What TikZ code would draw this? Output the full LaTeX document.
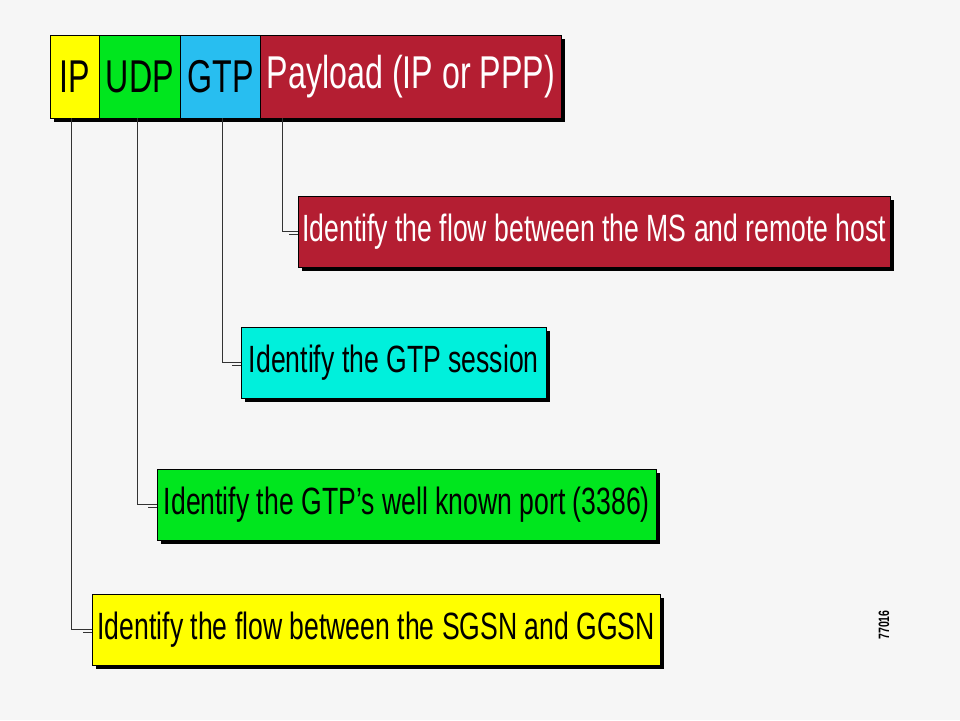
\documentclass[tikz,border=0pt]{standalone}
\usepackage{fontspec}
\setmainfont{Liberation Sans}[FakeStretch=0.7]
\usetikzlibrary{positioning}
\usetikzlibrary{shadows}
\definecolor{bg}{RGB}{246, 246, 246}
\definecolor{cy}{RGB}{255, 255, 0}
\definecolor{cg}{RGB}{0, 230, 30}
\definecolor{cb}{RGB}{40, 190, 240}
\definecolor{cr}{RGB}{180, 30, 50}
\definecolor{ct}{RGB}{0, 240, 220}
\tikzset{
  field/.style={draw=black, line width=0.8pt, inner sep=0pt, minimum height=83pt, anchor=north west,
    font=\fontsize{46}{46}\selectfont, drop shadow={shadow xshift=4pt, shadow yshift=-4pt, fill=black, opacity=1}},
  note/.style={draw=black, line width=0.6pt, inner sep=0pt, minimum height=71pt, anchor=north west,
    font=\fontsize{38}{38}\selectfont, drop shadow={shadow xshift=4pt, shadow yshift=-4pt, fill=black, opacity=1}},
  lead/.style={line width=0.9pt, color=black!80}
}
\begin{document}
\begin{tikzpicture}[x=1pt, y=-1pt]
\fill[bg] (0,0) rectangle (960,720);
\useasboundingbox (0,0) rectangle (960,720);
\node (ip) [field, fill=cy, minimum width=49pt] at (50, 35) {IP};
\node (udp) [field, fill=cg, minimum width=81pt] at (99, 35) {UDP};
\node (gtp) [field, fill=cb, minimum width=80pt] at (180, 35) {GTP};
\node (pay) [field, fill=cr, text=white, minimum width=301pt] at (260, 35) {Payload (IP or PPP)};
\node (n1) [note, fill=cr, text=white, minimum width=592pt] at (298, 196) {Identify the flow between the MS and remote host};
\node (n2) [note, fill=ct, minimum width=305pt] at (241, 327) {Identify the GTP session};
\node (n3) [note, fill=cg, minimum width=499pt] at (157, 469) {Identify the GTP’s well known port (3386)};
\node (n4) [note, fill=cy, minimum width=568pt] at (92, 594) {Identify the flow between the SGSN and GGSN};
\coordinate (p1) at (282, 118);
\coordinate (p2) at (222, 118);
\coordinate (p3) at (137, 118);
\coordinate (p4) at (71, 118);
\draw [lead] (p1) |- (n1.west);
\draw [lead] (p2) |- (n2.west);
\draw [lead] (p3) |- (n3.west);
\draw [lead] (p4) |- (n4.west);
% short double ticks at the note edges
\foreach \n in {n1, n2, n3, n4}
  \draw [lead] ([xshift=-9pt, yshift=-3pt]\n.west) -- ([yshift=-3pt]\n.west);
\node (tag) [rotate=90, font=\fontsize{15}{15}\selectfont\bfseries] at (884, 625) {77016};
\end{tikzpicture}
\end{document}
